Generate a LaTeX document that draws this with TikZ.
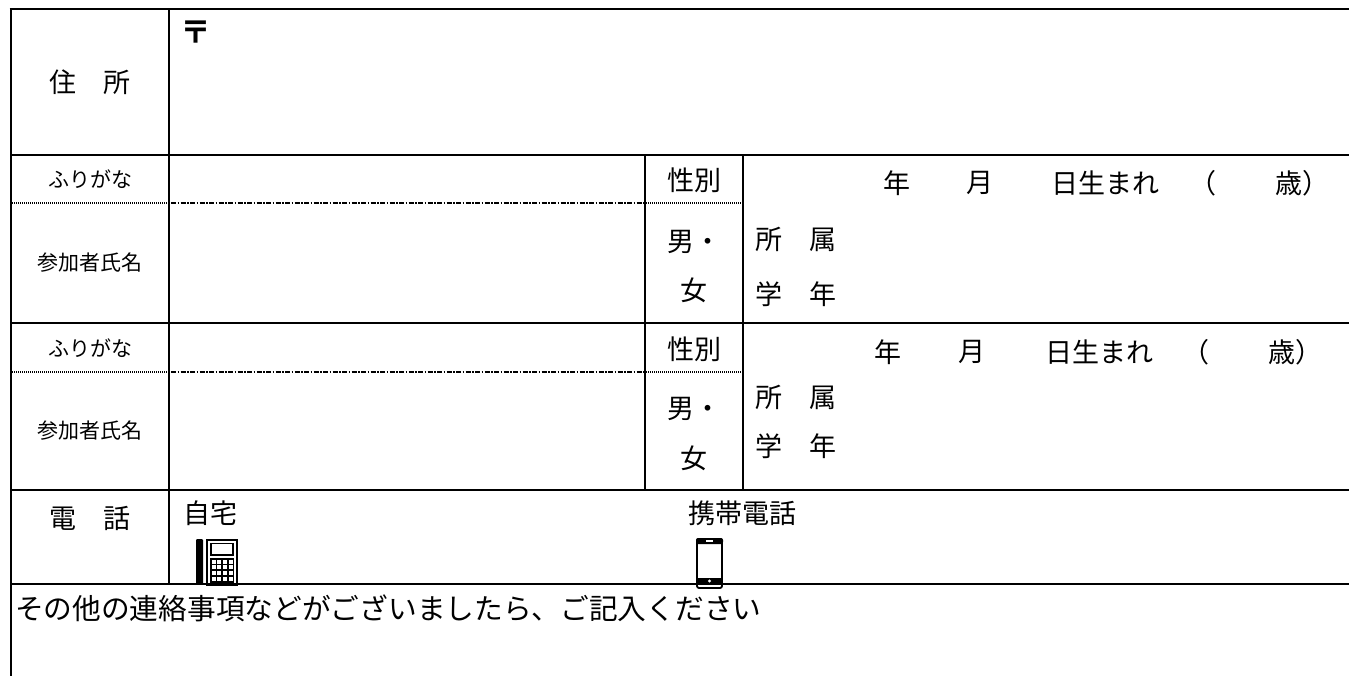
\documentclass[tikz,border=0pt]{standalone}
\usepackage{fontspec}
\setmainfont{Noto Sans CJK JP}
\usetikzlibrary{positioning,calc}

\begin{document}
\begin{tikzpicture}[x=1pt, y=-1pt, auto, align=center]

%local definitions
\tikzstyle{Label} = [font=\fontsize{27}{33}\selectfont, inner sep=0pt]
\tikzstyle{SmallLabel} = [font=\fontsize{21}{25}\selectfont, inner sep=0pt]
\tikzstyle{Border} = [line width=2.8pt]
\tikzstyle{ThinBorder} = [line width=1.7pt]
\tikzstyle{DotLine} = [line width=1.3pt, dash pattern=on 1pt off 1pt]
\tikzstyle{DashLine} = [line width=1.3pt, dash pattern=on 5pt off 1.5pt on 1.5pt off 1.5pt]

\useasboundingbox (0,0) rectangle (1349,676);

%frame
	\draw [Border] (9.6,9) -- (1360,9);
	\draw [Border] (11,155) -- (1360,155);
	\draw [Border] (11,323) -- (1360,323);
	\draw [Border] (11,490) -- (1360,490);
	\draw [Border] (11,584) -- (1360,584);
	\draw [Border] (11,9) -- (11,690);
	\draw [Border] (169,9) -- (169,584);
	\draw [ThinBorder] (645,155) -- (645,490);
	\draw [ThinBorder] (743,155) -- (743,490);

	%kana lines
	\draw [DotLine] (12,203) -- (167,203);
	\draw [DashLine] (171,203) -- (644,203);
	\draw [DotLine] (646,203) -- (742,203);
	\draw [DotLine] (12,372) -- (167,372);
	\draw [DashLine] (171,372) -- (644,372);
	\draw [DotLine] (646,372) -- (742,372);

%address
	\node [Label] (Address) at (90,82) {住　所};
	\node [Label, font=\fontsize{31}{34}\selectfont\bfseries] (Postal) at (196,32) {〒};

%first entry
	\node [SmallLabel] (KanaA) at (90,179) {ふりがな};
	\node [SmallLabel] (NameA) at (90,263) {参加者氏名};
	\node [Label] (SexA) at (694,180) {性別};
	\node [Label] (MaleA) at (694,242) {男・};
	\node [Label] (FemaleA) at (694,290) {女};
	\node [Label] (YearA) at (897,183) {年};
	\node [Label] (MonthA) at (980,183) {月};
	\node [Label] (DayA) at (1105,183) {日生まれ};
	\node [Label] (OpenA) at (1203,183) {（};
	\node [Label] (AgeA) at (1302,183) {歳）};
	\node [Label, anchor=west] (GroupA) at (755,239) {所　属};
	\node [Label, anchor=west] (GradeA) at (755,294) {学　年};

%second entry
	\node [SmallLabel] (KanaB) at (90,348) {ふりがな};
	\node [SmallLabel] (NameB) at (90,431) {参加者氏名};
	\node [Label] (SexB) at (694,349) {性別};
	\node [Label] (MaleB) at (694,409) {男・};
	\node [Label] (FemaleB) at (694,458) {女};
	\node [Label] (YearB) at (888,352) {年};
	\node [Label] (MonthB) at (972,352) {月};
	\node [Label] (DayB) at (1099,352) {日生まれ};
	\node [Label] (OpenB) at (1196,352) {（};
	\node [Label] (AgeB) at (1295,352) {歳）};
	\node [Label, anchor=west] (GroupB) at (755,397) {所　属};
	\node [Label, anchor=west] (GradeB) at (755,446) {学　年};

%telephone
	\node [Label] (Phone) at (90,518) {電　話};
	\node [Label, anchor=west] (Home) at (183,513) {自宅};
	\node [Label, anchor=west] (Mobile) at (688,513) {携帯電話};

	%desk phone icon
	\fill [rounded corners=1pt] (196,539) rectangle (203,584);
	\draw [line width=1.8pt] (207,540) rectangle (237,585);
	\draw [line width=1.2pt] (211,543.5) rectangle (233,555);
	\fill (210,558) rectangle (234,584);
	\foreach \i in {0,...,3}
		\foreach \j in {0,...,3}
			\fill [white] (211.5+5.9*\i,559.5+5.9*\j) rectangle ++(4,4);

	%mobile icon
	\draw [line width=1.8pt, rounded corners=2pt] (697,539) rectangle (722,588);
	\fill [rounded corners=2pt] (696,538) rectangle (723,544);
	\fill [white] (706,540.4) rectangle (713,541.6);
	\fill (696,578) rectangle (723,584);
	\fill [white] (709.5,581) circle (1.6);

%remarks
	\node [Label, font=\fontsize{28.7}{34}\selectfont, anchor=west] (Remarks) at (15,608) {その他の連絡事項などがございましたら、ご記入ください};

\end{tikzpicture}
\end{document}
